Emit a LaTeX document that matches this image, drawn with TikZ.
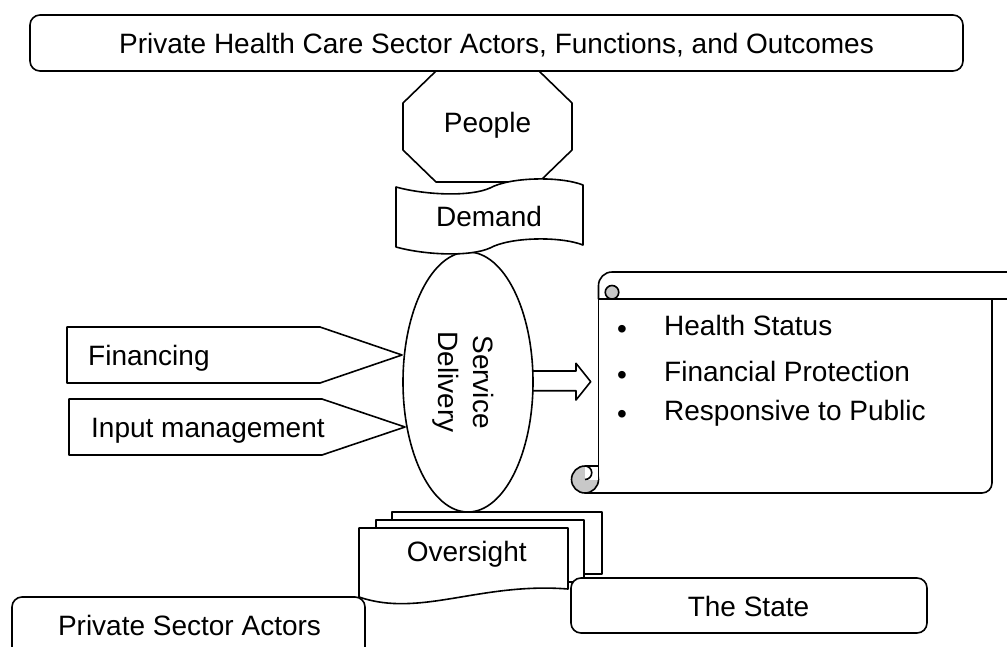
\documentclass[tikz,border=0pt]{standalone}
\usepackage{fontspec}
\setmainfont{Liberation Sans}
\definecolor{curlgray}{RGB}{200,200,200}
\begin{document}
\begin{tikzpicture}[x=1pt,y=-1pt,
  every node/.style={inner sep=0pt, font=\fontsize{28}{33}\selectfont},
  outline/.style={draw=black, line width=1.6pt, line join=round},
  shape line/.style={outline, fill=white},
  label text/.style={anchor=base},
  left text/.style={anchor=base west},
]
\useasboundingbox (0,0) rectangle (1007,646);

% People (octagon)
\draw[shape line] (436,71) -- (539,71) -- (572,103) -- (572,150) -- (539,182)
  -- (436,182) -- (403,150) -- (403,103) -- cycle;
\node[label text] (people) at (487.5,132.7) {People};

% Title
\draw[shape line, rounded corners=10pt] (30,15) rectangle (963,71);
\node[label text] (title) at (496.5,53.3)
  {Private Health Care Sector Actors, Functions, and Outcomes};

% Inputs (pentagon arrows)
\draw[shape line] (67,327) -- (320,327) -- (402,355) -- (320,383) -- (67,383) -- cycle;
\node[left text] (fin) at (88,365) {Financing};
\draw[shape line] (69,399) -- (322,399) -- (405,427) -- (322,455) -- (69,455) -- cycle;
\node[left text] (inp) at (91,437.5) {Input management};

% Block arrow towards outcomes
\draw[shape line] (520,371) -- (576,371) -- (576,363.3) -- (590.7,381.7)
  -- (576,400) -- (576,390.7) -- (520,390.7) -- cycle;

% Service delivery (ellipse)
\draw[shape line] (468,382) ellipse [x radius=65pt, y radius=130pt];
\node[rotate=-90, align=center, font=\fontsize{28}{35}\selectfont] (sd) at (463,382)
  {Service\\Delivery};

% Demand (wave)
\draw[shape line] (396,187) .. controls (425,195) and (470,197) .. (490,188)
  .. controls (510,177) and (560,176) .. (583,185) -- (583,245)
  .. controls (560,236) and (510,237) .. (490,248)
  .. controls (470,257) and (425,255) .. (396,247) -- cycle;
\node[label text] (demand) at (489,226.7) {Demand};

% Outcomes (horizontal scroll)
\fill[white] (598.5,299) rectangle (992,493);
\draw[outline] (598.5,299) -- (598.5,479.5);
\draw[outline] (585,493) -- (982,493) arc[start angle=-90, end angle=0, radius=10pt] -- (992,299);
\draw[shape line] (598.5,299) -- (598.5,285.5) arc[start angle=180, end angle=90, radius=13.5pt]
  -- (1015,272) -- (1015,299) -- cycle;
\draw[outline, fill=curlgray] (612,292.25) circle[radius=6.75pt];
\draw[outline, fill=curlgray] (585,479.5) circle[radius=13.5pt];
\fill[white] (585,466) rectangle (598.5,479.5);
\draw[outline] (585,466) -- (598.5,466) -- (598.5,479.5);
\draw[outline] (585,479.5) arc[start angle=-90, end angle=90, radius=6.75pt];

\node[label text] (b1) at (622,338) {\textbullet};
\node[label text] (b2) at (622,384.7) {\textbullet};
\node[label text] (b3) at (622,423) {\textbullet};
\node[left text] (o1) at (664,335) {Health Status};
\node[left text] (o2) at (664,381.7) {Financial Protection};
\node[left text] (o3) at (664,420) {Responsive to Public};

% Oversight (stacked documents)
\draw[shape line] (392,512) rectangle (602,574);
\draw[shape line] (376,520) rectangle (584,582);
\draw[shape line] (359,528) -- (568,528) -- (568,589)
  .. controls (480,582) and (420,618) .. (359,597) -- cycle;
\node[label text] (over) at (466.7,561.5) {Oversight};

% Actors
\draw[shape line, rounded corners=10pt] (12,597) rectangle (365,670);
\node[label text] (psa) at (189.5,635) {Private Sector Actors};
\draw[shape line, rounded corners=10pt] (571,578) rectangle (927,633);
\node[label text] (state) at (748.5,616) {The State};
\end{tikzpicture}
\end{document}
